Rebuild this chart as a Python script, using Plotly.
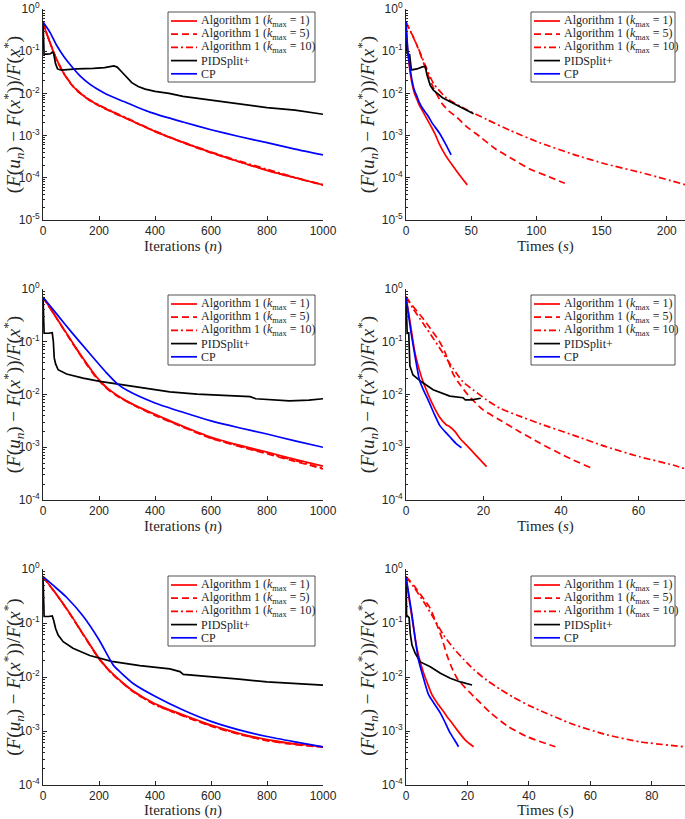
import plotly.graph_objects as go
from plotly.subplots import make_subplots

# ---------------- data ----------------
# Row 1, left: iterations
it1 = [0, 10, 25, 42, 55, 72, 90, 107, 130, 167, 200, 262, 300, 400, 500, 600, 700, 800, 900, 1000]
p1_k1 = [0.49, 0.30, 0.16, 0.081, 0.052, 0.0316, 0.0209, 0.0148, 0.0105, 0.0069, 0.0052, 0.0033, 0.0025, 0.00126, 0.00069, 0.0004, 0.00024, 0.00015, 0.0001, 0.000068]
p1_k5 = [0.49, 0.30, 0.16, 0.080, 0.051, 0.031, 0.0205, 0.0146, 0.0103, 0.0068, 0.0051, 0.0032, 0.0025, 0.00124, 0.00068, 0.00039, 0.00024, 0.00015, 0.0001, 0.000067]
p1_k10 = [0.49, 0.30, 0.16, 0.082, 0.053, 0.032, 0.0212, 0.015, 0.0107, 0.007, 0.0053, 0.0034, 0.0026, 0.00128, 0.0007, 0.00041, 0.00025, 0.00016, 0.000102, 0.000069]
it1_pid = [0, 2, 4, 15, 27, 33, 38, 45, 52, 65, 80, 120, 180, 220, 253, 265, 280, 300, 317, 340, 365, 400, 450, 500, 600, 700, 800, 900, 1000]
p1_pid = [0.49, 0.25, 0.085, 0.085, 0.087, 0.095, 0.089, 0.05, 0.038, 0.0355, 0.0363, 0.038, 0.039, 0.041, 0.045, 0.042, 0.033, 0.0234, 0.018, 0.0145, 0.0126, 0.0112, 0.010, 0.0085, 0.0069, 0.0058, 0.0046, 0.004, 0.0032]
it1_cp = [0, 25, 48, 75, 107, 135, 167, 200, 227, 286, 381, 500, 600, 700, 800, 900, 1000]
p1_cp = [0.49, 0.28, 0.14, 0.074, 0.040, 0.025, 0.0166, 0.012, 0.0095, 0.0065, 0.0036, 0.0021, 0.00138, 0.00095, 0.00068, 0.00048, 0.00035]

# Row 1, right: time
t2_k1 = [0, 0.5, 1.2, 2.0, 3.3, 5, 6.5, 8.4, 10, 12, 16, 19.5, 22.5, 25.6, 30, 36, 41, 47]
p2_k1 = [0.49, 0.25, 0.112, 0.063, 0.0295, 0.0151, 0.010, 0.0072, 0.0054, 0.0042, 0.0025, 0.0016, 0.00105, 0.00063, 0.000355, 0.00019, 0.000117, 0.000068]
t2_k5 = [0, 2.5, 5.9, 11, 16.1, 21.2, 27.6, 33, 39.1, 46.2, 56.6, 69.2, 82, 94.9, 107.7, 121.8]
p2_k5 = [0.49, 0.33, 0.21, 0.085, 0.0316, 0.0132, 0.0058, 0.0038, 0.0027, 0.00166, 0.00095, 0.00047, 0.000275, 0.000162, 0.000112, 0.000074]
t2_k10 = [0, 3, 6, 9.7, 14.8, 21.2, 31.4, 46.7, 62.1, 80, 102.6, 128.2, 153.8, 179.5, 214]
p2_k10 = [0.49, 0.32, 0.2, 0.112, 0.046, 0.017, 0.0076, 0.0041, 0.0024, 0.00132, 0.00068, 0.00036, 0.00021, 0.000135, 0.000069]
t2_pid = [0, 0.4, 1.3, 2.8, 4.1, 8.4, 12, 14.8, 16.0, 18.6, 21, 23.8, 28, 33.9, 41, 46, 51.8]
p2_pid = [0.49, 0.1, 0.085, 0.083, 0.036, 0.038, 0.042, 0.044, 0.028, 0.0155, 0.012, 0.010, 0.0079, 0.0063, 0.0048, 0.004, 0.0033]
t2_cp = [0, 0.5, 1.2, 2.0, 3.3, 5, 6.5, 8.4, 10, 12.5, 16.7, 20, 25.6, 30, 34.6]
p2_cp = [0.49, 0.26, 0.126, 0.071, 0.0355, 0.0178, 0.0117, 0.0085, 0.0063, 0.0045, 0.003, 0.002, 0.00115, 0.00066, 0.00035]

# Row 2, left: iterations
it3 = [0, 50, 100, 150, 190, 230, 270, 320, 400, 500, 600, 700, 800, 900, 1000]
p3_k1 = [0.70, 0.275, 0.107, 0.043, 0.0219, 0.0132, 0.0093, 0.0066, 0.0042, 0.0025, 0.00155, 0.0011, 0.00081, 0.00059, 0.00044]
p3_k5 = [0.70, 0.27, 0.104, 0.041, 0.0209, 0.0127, 0.009, 0.0064, 0.0040, 0.0024, 0.00148, 0.00104, 0.00075, 0.00054, 0.00039]
p3_k10 = [0.70, 0.272, 0.105, 0.042, 0.0214, 0.0129, 0.0091, 0.0065, 0.0041, 0.00245, 0.0015, 0.00106, 0.00077, 0.00056, 0.0004]
it3_pid = [0, 2, 4, 20, 33, 37, 40, 45, 54, 84, 143, 203, 274, 346, 453, 550, 650, 740, 760, 860, 880, 950, 1000]
p3_pid = [0.70, 0.32, 0.145, 0.145, 0.148, 0.1, 0.05, 0.038, 0.0295, 0.0245, 0.0204, 0.0178, 0.0155, 0.0135, 0.0112, 0.0102, 0.0095, 0.0091, 0.0083, 0.0079, 0.0076, 0.0078, 0.0083]
it3_cp = [0, 50, 107, 160, 227, 268, 300, 400, 500, 600, 700, 800, 900, 1000]
p3_cp = [0.70, 0.33, 0.141, 0.066, 0.0257, 0.0155, 0.012, 0.0069, 0.0046, 0.00316, 0.00234, 0.00178, 0.00132, 0.001]

# Row 2, right: time
t4_k1 = [0, 1, 2.25, 3.3, 4.4, 5.5, 6.6, 8.7, 10.3, 11.3, 12.6, 14, 15.6, 18, 20.8]
p4_k1 = [0.71, 0.25, 0.065, 0.0316, 0.0174, 0.011, 0.0072, 0.0037, 0.0027, 0.00245, 0.002, 0.00145, 0.0011, 0.00071, 0.00043]
t4_k5 = [0, 1.5, 4.0, 6.6, 8.5, 10.0, 12.1, 13.4, 16.0, 19.9, 24.2, 29.4, 34.5, 41.4, 47.9]
p4_k5 = [0.71, 0.5, 0.30, 0.166, 0.105, 0.065, 0.025, 0.0174, 0.0098, 0.0051, 0.0033, 0.00195, 0.0012, 0.00066, 0.0004]
t4_k10 = [0, 1.8, 4.4, 7.0, 9.6, 12.1, 14.7, 17.3, 20.8, 24.2, 28.5, 34.5, 43.1, 51.7, 60.3, 68.9, 72]
p4_k10 = [0.71, 0.43, 0.224, 0.117, 0.06, 0.0316, 0.0174, 0.0123, 0.0079, 0.0055, 0.0041, 0.0028, 0.0017, 0.00102, 0.00066, 0.00046, 0.00039]
t4_pid = [0, 0.15, 0.3, 0.7, 0.8, 1.0, 1.8, 4.0, 7.0, 11.3, 14.7, 15.3, 17, 19.3]
p4_pid = [0.71, 0.145, 0.145, 0.148, 0.063, 0.035, 0.0234, 0.0174, 0.0123, 0.0093, 0.0087, 0.0079, 0.0079, 0.0085]
t4_cp = [0, 1.4, 2.5, 3.5, 4.6, 5.7, 7.4, 8.7, 10, 11.3, 12.8, 14.3]
p4_cp = [0.71, 0.135, 0.045, 0.0186, 0.0117, 0.0079, 0.0041, 0.0026, 0.002, 0.00158, 0.0012, 0.00098]

# Row 3, left: iterations
it5 = [0, 50, 84, 107, 143, 179, 200, 225, 245, 263, 322, 400, 500, 600, 700, 800, 900, 1000]
p5_k1 = [0.72, 0.331, 0.186, 0.123, 0.063, 0.0324, 0.0224, 0.0155, 0.012, 0.0098, 0.0055, 0.0032, 0.002, 0.00129, 0.00091, 0.00069, 0.00058, 0.00051]
p5_k5 = [0.72, 0.325, 0.182, 0.120, 0.061, 0.0314, 0.0216, 0.015, 0.0116, 0.0095, 0.0053, 0.0031, 0.0019, 0.00123, 0.00087, 0.00066, 0.00056, 0.0005]
p5_k10 = [0.72, 0.328, 0.184, 0.121, 0.062, 0.0318, 0.022, 0.0152, 0.0118, 0.0096, 0.0054, 0.00305, 0.00193, 0.00125, 0.00088, 0.00067, 0.00057, 0.000505]
it5_pid = [0, 2, 4, 20, 33, 38, 45, 54, 72, 107, 167, 245, 346, 453, 489, 501, 600, 700, 800, 900, 1000]
p5_pid = [0.72, 0.32, 0.132, 0.132, 0.135, 0.112, 0.079, 0.06, 0.045, 0.034, 0.025, 0.0195, 0.0162, 0.0141, 0.0126, 0.0112, 0.0102, 0.0091, 0.0081, 0.0076, 0.0071]
it5_cp = [0, 42, 84, 143, 200, 251, 275, 322, 400, 500, 600, 700, 800, 900, 1000]
p5_cp = [0.72, 0.47, 0.30, 0.135, 0.049, 0.0166, 0.0125, 0.0076, 0.0044, 0.00245, 0.00151, 0.00105, 0.00079, 0.00063, 0.00051]

# Row 3, right: time
t6_k1 = [0, 1, 2.5, 3.5, 4.65, 5.7, 6.8, 8.45, 10.3, 12.2, 13.3, 14.8, 16.6, 19.3, 22]
p6_k1 = [0.72, 0.28, 0.079, 0.035, 0.019, 0.012, 0.0081, 0.0047, 0.0032, 0.0023, 0.00186, 0.00145, 0.00105, 0.00068, 0.00051]
t6_k5 = [0, 2.5, 5.2, 7.9, 10.1, 11.7, 13.3, 15.0, 16.6, 19.3, 22, 27.4, 32.8, 39.3, 48.6]
p6_k5 = [0.72, 0.5, 0.31, 0.186, 0.091, 0.052, 0.0257, 0.0145, 0.0095, 0.0063, 0.0044, 0.0022, 0.00126, 0.00079, 0.00051]
t6_k10 = [0, 2.5, 5.7, 9.0, 12.2, 15.5, 18.7, 22, 26.3, 30.7, 35, 40.4, 54.5, 65.4, 76.2, 90.8]
p6_k10 = [0.72, 0.47, 0.25, 0.123, 0.06, 0.034, 0.0214, 0.0138, 0.0087, 0.0059, 0.0042, 0.0029, 0.00132, 0.00085, 0.00063, 0.00051]
t6_pid = [0, 0.2, 0.5, 1.0, 1.4, 1.95, 3.0, 4.65, 7.9, 11.2, 14.4, 17.7, 21.5]
p6_pid = [0.72, 0.132, 0.135, 0.126, 0.063, 0.039, 0.0275, 0.019, 0.0155, 0.0117, 0.0095, 0.0081, 0.0071]
t6_cp = [0, 1.95, 3.0, 4.1, 5.7, 7.35, 9.2, 11.2, 12.8, 14.4, 15.8, 17.1]
p6_cp = [0.72, 0.141, 0.05, 0.0204, 0.0095, 0.0047, 0.0032, 0.00214, 0.00141, 0.00091, 0.00068, 0.00051]

# tick labels
ytick_vals_5 = [1, 1e-1, 1e-2, 1e-3, 1e-4, 1e-5]
ytick_text_5 = ["10<sup>0</sup>", "10<sup>-1</sup>", "10<sup>-2</sup>", "10<sup>-3</sup>", "10<sup>-4</sup>", "10<sup>-5</sup>"]
ytick_vals_4 = [1, 1e-1, 1e-2, 1e-3, 1e-4]
ytick_text_4 = ["10<sup>0</sup>", "10<sup>-1</sup>", "10<sup>-2</sup>", "10<sup>-3</sup>", "10<sup>-4</sup>"]
xticks_iter = [0, 200, 400, 600, 800, 1000]
xticks_t1 = [0, 50, 100, 150, 200]
xticks_t2 = [0, 20, 40, 60]
xticks_t3 = [0, 20, 40, 60, 80]

series_names = [
    "Algorithm 1 (<i>k</i><sub>max</sub> = 1)",
    "Algorithm 1 (<i>k</i><sub>max</sub> = 5)",
    "Algorithm 1 (<i>k</i><sub>max</sub> = 10)",
    "PIDSplit+",
    "CP",
]
x_title_iter = "Iterations (<i>n</i>)"
x_title_time = "Times (<i>s</i>)"
y_title = ("(<i>F</i>(<i>u</i><sub><i>n</i></sub>)\u00a0\u2212\u00a0<i>F</i>(<i>x</i><sup>*</sup>))"
           "/<i>F</i>(<i>x</i><sup>*</sup>)")

# ---------------- styling ----------------
RED, BLACK, BLUE = "#FF0000", "#000000", "#0000FF"
AX = "#262626"
DASH = "7px,4px"
DASHDOT = "7px,3px,2px,3px"
styles = [(RED, "solid"), (RED, DASH), (RED, DASHDOT), (BLACK, "solid"), (BLUE, "solid")]
SERIF = "Liberation Serif, Times New Roman, serif"
SANS = "Liberation Sans, Arial, Helvetica, sans-serif"
LW = 1.7

W, H = 685, 819
def px_x(p):
    return p / W
def px_y(p):
    return 1 - p / H

panels = [
    (1, 1, [(it1, p1_k1), (it1, p1_k5), (it1, p1_k10), (it1_pid, p1_pid), (it1_cp, p1_cp)],
     [0, 1000], xticks_iter, [-5, 0], ytick_vals_5, ytick_text_5, x_title_iter, (9, 220)),
    (1, 2, [(t2_k1, p2_k1), (t2_k5, p2_k5), (t2_k10, p2_k10), (t2_pid, p2_pid), (t2_cp, p2_cp)],
     [0, 214], xticks_t1, [-5, 0], ytick_vals_5, ytick_text_5, x_title_time, (9, 220)),
    (2, 1, [(it3, p3_k1), (it3, p3_k5), (it3, p3_k10), (it3_pid, p3_pid), (it3_cp, p3_cp)],
     [0, 1000], xticks_iter, [-4, 0], ytick_vals_4, ytick_text_4, x_title_iter, (289, 500)),
    (2, 2, [(t4_k1, p4_k1), (t4_k5, p4_k5), (t4_k10, p4_k10), (t4_pid, p4_pid), (t4_cp, p4_cp)],
     [0, 72], xticks_t2, [-4, 0], ytick_vals_4, ytick_text_4, x_title_time, (289, 500)),
    (3, 1, [(it5, p5_k1), (it5, p5_k5), (it5, p5_k10), (it5_pid, p5_pid), (it5_cp, p5_cp)],
     [0, 1000], xticks_iter, [-4, 0], ytick_vals_4, ytick_text_4, x_title_iter, (569, 785)),
    (3, 2, [(t6_k1, p6_k1), (t6_k5, p6_k5), (t6_k10, p6_k10), (t6_pid, p6_pid), (t6_cp, p6_cp)],
     [0, 90.8], xticks_t3, [-4, 0], ytick_vals_4, ytick_text_4, x_title_time, (569, 785)),
]

col_px = {1: (43, 323), 2: (406, 685)}

fig = make_subplots(rows=3, cols=2)

for idx, (r, c, data, xr, xt, yr, ytv, ytt, xtitle, (ptop, pbot)) in enumerate(panels):
    for k, ((xs, ys), (color, dash)) in enumerate(zip(data, styles)):
        shape = "linear" if k == 3 else "spline"
        fig.add_trace(go.Scatter(
            x=xs, y=ys, mode="lines", name=series_names[k],
            line=dict(color=color, width=LW, dash=dash, shape=shape, smoothing=0.6),
            showlegend=False, hoverinfo="skip"), row=r, col=c)
    n = idx + 1
    xa = "xaxis" if n == 1 else f"xaxis{n}"
    ya = "yaxis" if n == 1 else f"yaxis{n}"
    x0, x1 = col_px[c]
    fig.layout[xa].update(
        domain=[px_x(x0), min(1.0, px_x(x1))], range=xr, tickmode="array", tickvals=xt,
        showline=True, linecolor=AX, linewidth=1, mirror=False,
        ticks="inside", ticklen=4, tickcolor=AX, showgrid=False, zeroline=False,
        tickfont=dict(family=SANS, size=12, color=AX), automargin=False,
        ticklabeloverflow="allow",
        title=dict(text=xtitle, font=dict(family=SERIF, size=15, color=AX), standoff=3))
    fig.layout[ya].update(
        domain=[px_y(pbot), px_y(ptop)], type="log", range=yr, tickmode="array",
        tickvals=ytv, ticktext=ytt,
        showline=True, linecolor=AX, linewidth=1, mirror=False,
        ticks="inside", ticklen=4, tickcolor=AX, showgrid=False, zeroline=False,
        minor=dict(ticks="inside", ticklen=2, tickcolor=AX, dtick="D1", showgrid=False),
        tickfont=dict(family=SANS, size=12, color=AX), automargin=False,
        ticklabeloverflow="allow",
        title=dict(text=y_title, font=dict(family=SERIF, size=19, color=AX), standoff=2))

# ---------------- compact legends (like the original) ----------------
legend_boxes = {1: (168, 315), 2: (531, 675)}
row_tops = {1: 12, 2: 295, 3: 576}
shapes = []
annotations = []
for (r, c, *_rest) in panels:
    bx0, bx1 = legend_boxes[c]
    by0 = row_tops[r]
    by1 = by0 + 70
    shapes.append(dict(type="rect", xref="paper", yref="paper",
                       x0=px_x(bx0), x1=px_x(bx1), y0=px_y(by1), y1=px_y(by0),
                       line=dict(color=AX, width=0.8), fillcolor="white", layer="above"))
    for k, (color, dash) in enumerate(styles):
        yy = by0 + 9 + 13.2 * k
        sx0 = bx0 + 3
        sx1 = bx0 + 29
        shapes.append(dict(type="line", xref="paper", yref="paper",
                           x0=px_x(sx0), x1=px_x(sx1), y0=px_y(yy), y1=px_y(yy),
                           line=dict(color=color, width=LW, dash=dash), layer="above"))
        annotations.append(dict(xref="paper", yref="paper", x=px_x(sx1 + 2), y=px_y(yy),
                                xanchor="left", yanchor="middle", showarrow=False,
                                text=series_names[k],
                                font=dict(family=SERIF, size=12, color=AX)))

fig.update_layout(
    width=W, height=H, margin=dict(l=0, r=0, t=0, b=0),
    paper_bgcolor="white", plot_bgcolor="white",
    showlegend=False, shapes=shapes, annotations=annotations,
)

fig.write_html("out.html", config={"displayModeBar": False},
               post_script="document.body.style.margin='0';document.body.style.overflow='hidden';")
